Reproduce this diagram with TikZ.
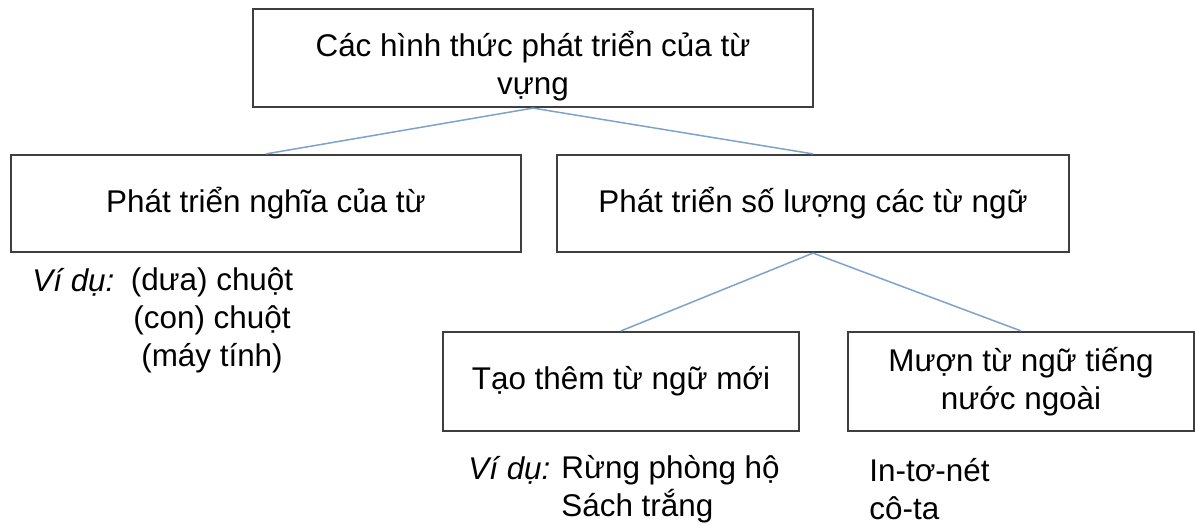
\documentclass[tikz,border=0pt]{standalone}
\usepackage{fontspec}
\setmainfont{Liberation Sans}
\usepackage{xcolor}
\usepackage{tikz}
\usetikzlibrary{positioning}
\definecolor{boxgray}{RGB}{62, 62, 62}
\definecolor{linkblue}{RGB}{125, 163, 203}

\begin{document}
\begin{tikzpicture}[x=0.5pt, y=-0.5pt,
    every node/.style={font=\fontsize{15.7}{19}\selectfont},
    topic/.style={draw=boxgray, line width=1.1pt, inner sep=0pt, align=center},
    link/.style={linkblue, line width=0.75pt},
    note/.style={inner sep=0pt, anchor=west}]
  \useasboundingbox (0,0) rectangle (1195,525);
  % the boxes
  \node[topic, minimum width=280pt, minimum height=49pt] (root) at (533,58)
    {\rule{0pt}{1.35em}Các hình thức phát triển của từ\\vựng};
  \node[topic, minimum width=255pt, minimum height=48.5pt] (nghia) at (266,203.5) {Phát triển nghĩa của từ};
  \node[topic, minimum width=256pt, minimum height=48.5pt] (soluong) at (813,203.5) {Phát triển số lượng các từ ngữ};
  \node[topic, minimum width=178pt, minimum height=49.5pt] (taomoi) at (621,381.5) {Tạo thêm từ ngữ mới};
  \node[topic, minimum width=173pt, minimum height=49.5pt] (muon) at (1021,381.5) {Mượn từ ngữ tiếng\\nước ngoài};
  % the links
  \foreach \a/\b in {root/nghia, root/soluong, soluong/taomoi, soluong/muon} {
    \draw[link] (\a.south) -- (\b.north);
  }
  % examples
  \node[note] (vidu1) at (32,282) {\itshape Ví dụ:};
  \node[inner sep=0pt, align=center] (vd1) at (212,320.5) {(dưa) chuột\\(con) chuột\\(máy tính)};
  \node[note] (vidu2) at (468,470) {\itshape Ví dụ:};
  \node[note, align=left] (vd2) at (561,489) {Rừng phòng hộ\\Sách trắng};
  \node[note, align=left] (vd3) at (869,489) {In-tơ-nét\\cô-ta};
\end{tikzpicture}
\end{document}
